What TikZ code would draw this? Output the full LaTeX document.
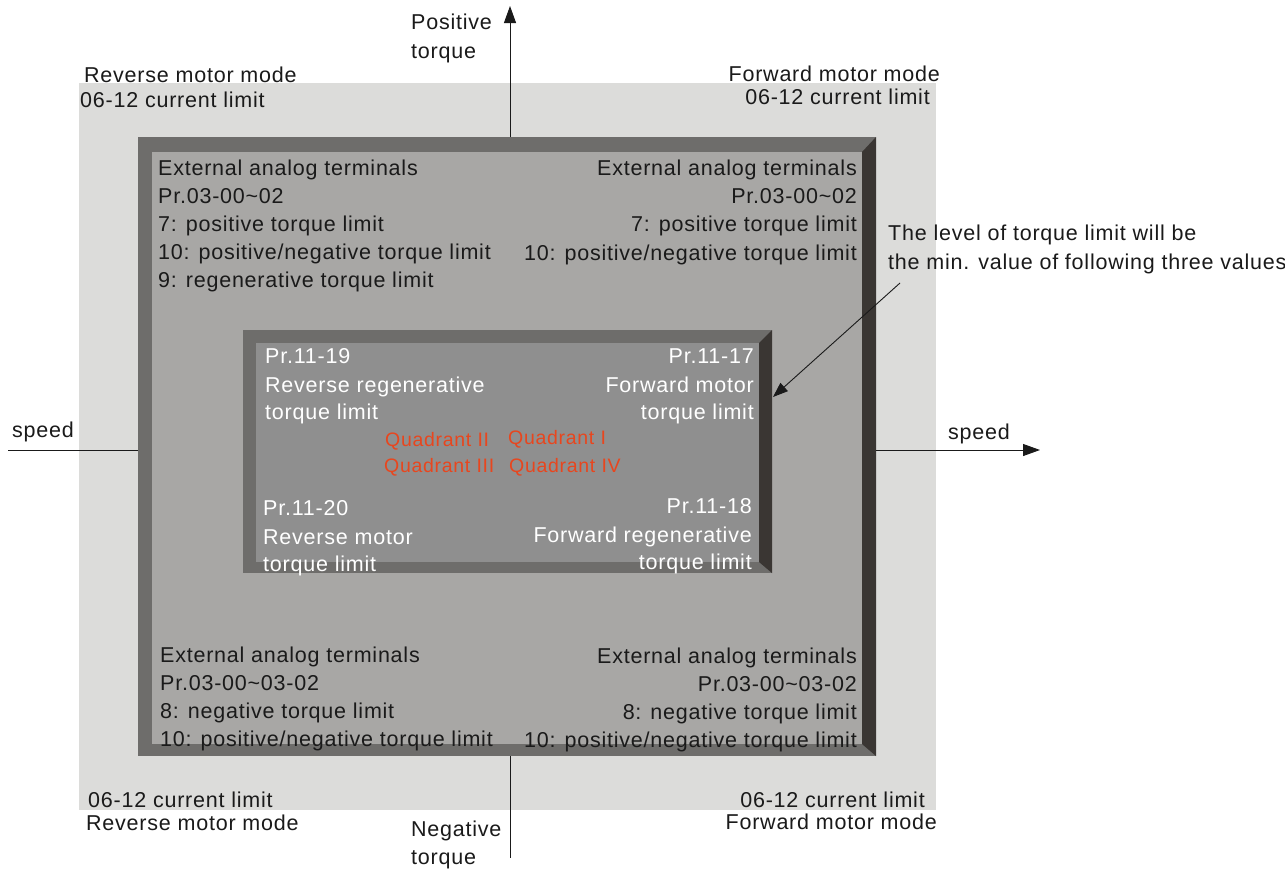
\documentclass[tikz,border=0pt]{standalone}
\usepackage{fontspec}
\setmainfont{Liberation Sans}[LetterSpace=3.6]
\usetikzlibrary{arrows.meta}
\definecolor{bglight}{HTML}{DCDCDA}
\definecolor{bevelgray}{HTML}{6E6D6B}
\definecolor{beveldark}{HTML}{3A3633}
\definecolor{outerface}{HTML}{A8A7A5}
\definecolor{innerface}{HTML}{8F8F8F}
\definecolor{quadred}{HTML}{E8461E}
\definecolor{textdark}{HTML}{1A1A1A}
\begin{document}
\begin{tikzpicture}[x=1pt,y=-1pt,
  txt/.style={font=\fontsize{21.5}{26}\selectfont, text=textdark, inner sep=0pt},
  wtxt/.style={font=\fontsize{21.5}{26}\selectfont, text=white, inner sep=0pt},
  qtxt/.style={font=\fontsize{19.5}{22}\selectfont, text=quadred, inner sep=0pt},
  axis/.style={draw=textdark, line width=1pt},
  axisarrow/.style={axis, -{Triangle[length=17pt,width=12pt]}},
  notearrow/.style={draw=textdark, line width=0.9pt, -{Triangle[length=15pt,width=11pt]}}]
\useasboundingbox (0,0) rectangle (1285,868);
\fill[white] (0,0) rectangle (1285,868);
% light background
\fill[bglight] (79,83) rectangle (936,810);
% outer bevel box
\fill[bevelgray] (138,137) rectangle (876,756);
\fill[beveldark] (876,137) -- (876,756) -- (862,744) -- (862,152) -- cycle;
\fill[outerface] (152,152) rectangle (862,744);
% inner bevel box
\fill[bevelgray] (243,330) rectangle (772,573);
\fill[beveldark] (772,330) -- (772,573) -- (759,562) -- (759,343) -- cycle;
\fill[innerface] (256,343) rectangle (759,562);
% axes
\coordinate (vtop) at (510,6);
\coordinate (vtopbox) at (510,137);
\coordinate (vbotbox) at (510,756);
\coordinate (vbot) at (510,858);
\coordinate (hleft) at (8,450);
\coordinate (hleftbox) at (138,450);
\coordinate (hrightbox) at (876,450);
\coordinate (hright) at (1040,450);
\draw[axisarrow] (vtopbox) -- (vtop);
\draw[axis] (vbotbox) -- (vbot);
\draw[axis] (hleft) -- (hleftbox);
\draw[axisarrow] (hrightbox) -- (hright);
% note arrow
\coordinate (notefrom) at (900,283);
\coordinate (noteto) at (773,397);
\draw[notearrow] (notefrom) -- (noteto);
% outside labels
\node[txt, anchor=base west] (pos1) at (411,29) {Positive};
\node[txt, anchor=base west] (pos2) at (411,58) {torque};
\node[txt, anchor=base west] (neg1) at (411,836) {Negative};
\node[txt, anchor=base west] (neg2) at (411,864) {torque};
\node[txt, anchor=base west] (spdl) at (12,437) {speed};
\node[txt, anchor=base west] (spdr) at (948,439) {speed};
\node[txt, anchor=base west] (rmm1) at (84,82) {Reverse motor mode};
\node[txt, anchor=base west] (rcl1) at (80,107) {06-12 current limit};
\node[txt, anchor=base east] (fmm1) at (940,81) {Forward motor mode};
\node[txt, anchor=base east] (fcl1) at (930,104) {06-12 current limit};
\node[txt, anchor=base west] (rcl2) at (88,807) {06-12 current limit};
\node[txt, anchor=base west] (rmm2) at (86,830) {Reverse motor mode};
\node[txt, anchor=base east] (fcl2) at (925,807) {06-12 current limit};
\node[txt, anchor=base east] (fmm2) at (937,829) {Forward motor mode};
\node[txt, anchor=base west] (note1) at (888,240) {The level of torque limit will be};
\node[txt, anchor=base west] (note2) at (888,269) {the min. value of following three values};
% outer box, top-left
\node[txt, anchor=base west] (tl1) at (158,175) {External analog terminals};
\node[txt, anchor=base west] (tl2) at (158,203) {Pr.03-00\textasciitilde02};
\node[txt, anchor=base west] (tl3) at (158,231) {7: positive torque limit};
\node[txt, anchor=base west] (tl4) at (158,259) {10: positive/negative torque limit};
\node[txt, anchor=base west] (tl5) at (158,287) {9: regenerative torque limit};
% outer box, top-right
\node[txt, anchor=base east] (tr1) at (857,175) {External analog terminals};
\node[txt, anchor=base east] (tr2) at (857,203) {Pr.03-00\textasciitilde02};
\node[txt, anchor=base east] (tr3) at (857,231) {7: positive torque limit};
\node[txt, anchor=base east] (tr4) at (857,260) {10: positive/negative torque limit};
% outer box, bottom-left
\node[txt, anchor=base west] (bl1) at (160,662) {External analog terminals};
\node[txt, anchor=base west] (bl2) at (160,690) {Pr.03-00\textasciitilde03-02};
\node[txt, anchor=base west] (bl3) at (160,718) {8: negative torque limit};
\node[txt, anchor=base west] (bl4) at (160,746) {10: positive/negative torque limit};
% outer box, bottom-right
\node[txt, anchor=base east] (br1) at (857,663) {External analog terminals};
\node[txt, anchor=base east] (br2) at (857,691) {Pr.03-00\textasciitilde03-02};
\node[txt, anchor=base east] (br3) at (857,719) {8: negative torque limit};
\node[txt, anchor=base east] (br4) at (857,747) {10: positive/negative torque limit};
% inner box
\node[wtxt, anchor=base west] (itl1) at (265,363) {Pr.11-19};
\node[wtxt, anchor=base west] (itl2) at (265,392) {Reverse regenerative};
\node[wtxt, anchor=base west] (itl3) at (265,419) {torque limit};
\node[wtxt, anchor=base east] (itr1) at (754,363) {Pr.11-17};
\node[wtxt, anchor=base east] (itr2) at (754,392) {Forward motor};
\node[wtxt, anchor=base east] (itr3) at (754,419) {torque limit};
\node[wtxt, anchor=base west] (ibl1) at (263,515) {Pr.11-20};
\node[wtxt, anchor=base west] (ibl2) at (263,544) {Reverse motor};
\node[wtxt, anchor=base west] (ibl3) at (263,571) {torque limit};
\node[wtxt, anchor=base east] (ibr1) at (752,513) {Pr.11-18};
\node[wtxt, anchor=base east] (ibr2) at (752,542) {Forward regenerative};
\node[wtxt, anchor=base east] (ibr3) at (752,569) {torque limit};
% quadrants
\node[qtxt, anchor=base west] (q2) at (385,446) {Quadrant II};
\node[qtxt, anchor=base west] (q1) at (508,444) {Quadrant I};
\node[qtxt, anchor=base west] (q3) at (384,472) {Quadrant III};
\node[qtxt, anchor=base west] (q4) at (509,472) {Quadrant IV};
\end{tikzpicture}
\end{document}
